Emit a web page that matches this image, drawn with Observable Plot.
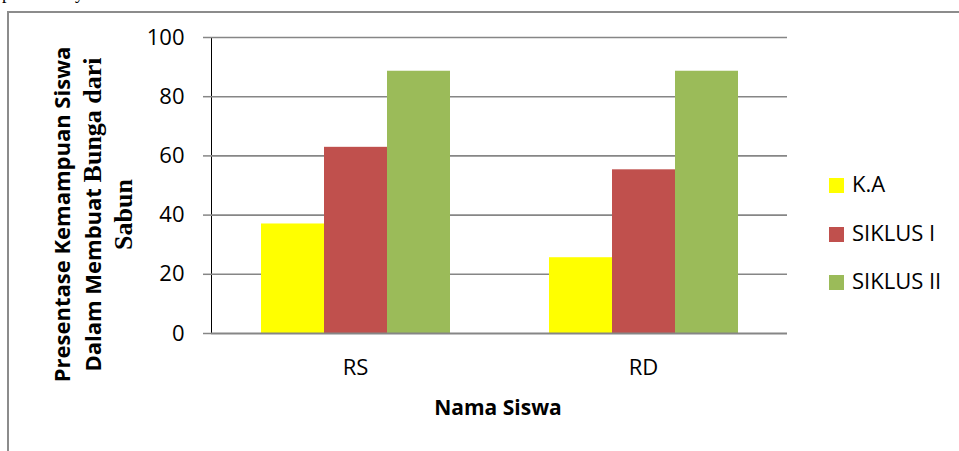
<!DOCTYPE html>
<html>
<head>
<meta charset="utf-8">
<script src="https://cdn.jsdelivr.net/npm/d3@7"></script>
<script src="https://cdn.jsdelivr.net/npm/@observablehq/plot@0.6"></script>
<style>
  html, body { margin: 0; padding: 0; background: #fff; }
  #wrap { position: relative; width: 959px; height: 451px; overflow: hidden; background: #fff; font-family: 'Open Sans', sans-serif; color: #000; }
  #frame { position: absolute; left: 7px; top: 11px; width: 1000px; height: 500px; border-left: 2px solid #8c8c8c; border-top: 2px solid #8c8c8c; }
  .frag { position: absolute; top: -16px; font-family: 'Liberation Serif', serif; font-size: 18px; line-height: 18px; }
  #chart { position: absolute; left: 0; top: 0; }
  #chart [aria-label^="y-axis"] line, #chart [aria-label^="y-axis"] path { stroke: #868686; stroke-width: 1.5px; }
  #ytitle { position: absolute; width: 360px; left: -88px; top: 198px; height: 31px; line-height: 31px; text-align: center; font-weight: bold; font-size: 22px; transform: rotate(-90deg); transform-origin: 180px 15.5px; white-space: nowrap; }
  #ytitle .serif { font-family: 'Liberation Serif', serif; font-size: 26px; }
  #xtitle { position: absolute; left: 398px; width: 200px; top: 392px; text-align: center; font-weight: bold; font-size: 21px; line-height: 30px; }
  .leg { position: absolute; left: 829px; height: 30px; line-height: 30px; font-size: 22px; white-space: nowrap; }
  .leg .sw { display: inline-block; width: 15px; height: 15px; vertical-align: middle; margin-right: 8px; position: relative; top: -1px; }
</style>
</head>
<body>
<div id="wrap">
  <div id="frame"></div>
  <div class="frag" style="left:2px">p</div>
  <div class="frag" style="left:75px">y</div>
  <div id="chart"></div>
  <div id="ytitle"></div>
  <div id="xtitle"></div>
  <div id="legend"></div>
</div>
<script>
// ---- data ----
const students = ["RS", "RD"];
const series = ["K.A", "SIKLUS I", "SIKLUS II"];
const valuesKA = [37, 25.6];
const valuesSiklus1 = [62.9, 55.3];
const valuesSiklus2 = [88.6, 88.6];
const yTicks = [0, 20, 40, 60, 80, 100];
const palette = ["#FFFF00", "#C0504D", "#9BBB59"];
const yTitleLines = ["Presentase Kemampuan Siswa", "Dalam Membuat", "Bunga dari", "Sabun"];
const xTitle = "Nama Siswa";

const seriesValues = [valuesKA, valuesSiklus1, valuesSiklus2];
const data = [];
students.forEach((s, i) => {
  series.forEach((k, j) => data.push({student: s, series: k, value: seriesValues[j][i]}));
});

const chart = Plot.plot({
  width: 959,
  height: 451,
  marginLeft: 210,
  marginRight: 172,
  marginTop: 37,
  marginBottom: 118,
  style: {fontFamily: "'Open Sans', sans-serif", fontSize: "22px", color: "#000", background: "transparent", overflow: "visible"},
  fx: {domain: students, padding: 0, axis: "bottom", label: null, tickSize: 0, tickPadding: 26},
  x: {domain: series, paddingInner: 0, paddingOuter: 0.766, axis: null},
  y: {domain: [0, 100], ticks: yTicks, tickSize: 8, tickPadding: 19, label: null, line: true},
  color: {domain: series, range: palette},
  marks: [
    Plot.ruleY(yTicks.filter(d => d > 0), {stroke: "#868686", strokeWidth: 1.6}),
    Plot.barY(data, {fx: "student", x: "series", y: "value", fill: "series"}),
    Plot.ruleY([0], {stroke: "#868686", strokeWidth: 2})
  ]
});
document.getElementById("chart").appendChild(chart);

// y title
const yt = document.getElementById("ytitle");
yt.innerHTML = `<div>${yTitleLines[0]}</div><div>${yTitleLines[1]} <span class="serif">${yTitleLines[2]}</span></div><div class="serif">${yTitleLines[3]}</div>`;
yt.style.height = "93px";
yt.style.transformOrigin = "180px 46.5px";
yt.style.top = (214 - 46.5) + "px";
yt.style.left = (92 - 180) + "px";

document.getElementById("xtitle").textContent = xTitle;

// legend
const legend = document.getElementById("legend");
const legY = [183, 232, 280];
series.forEach((s, i) => {
  const row = document.createElement("div");
  row.className = "leg";
  row.style.top = (legY[i] - 15) + "px";
  row.innerHTML = `<span class="sw" style="background:${palette[i]}"></span>${s}`;
  legend.appendChild(row);
});
</script>
</body>
</html>
